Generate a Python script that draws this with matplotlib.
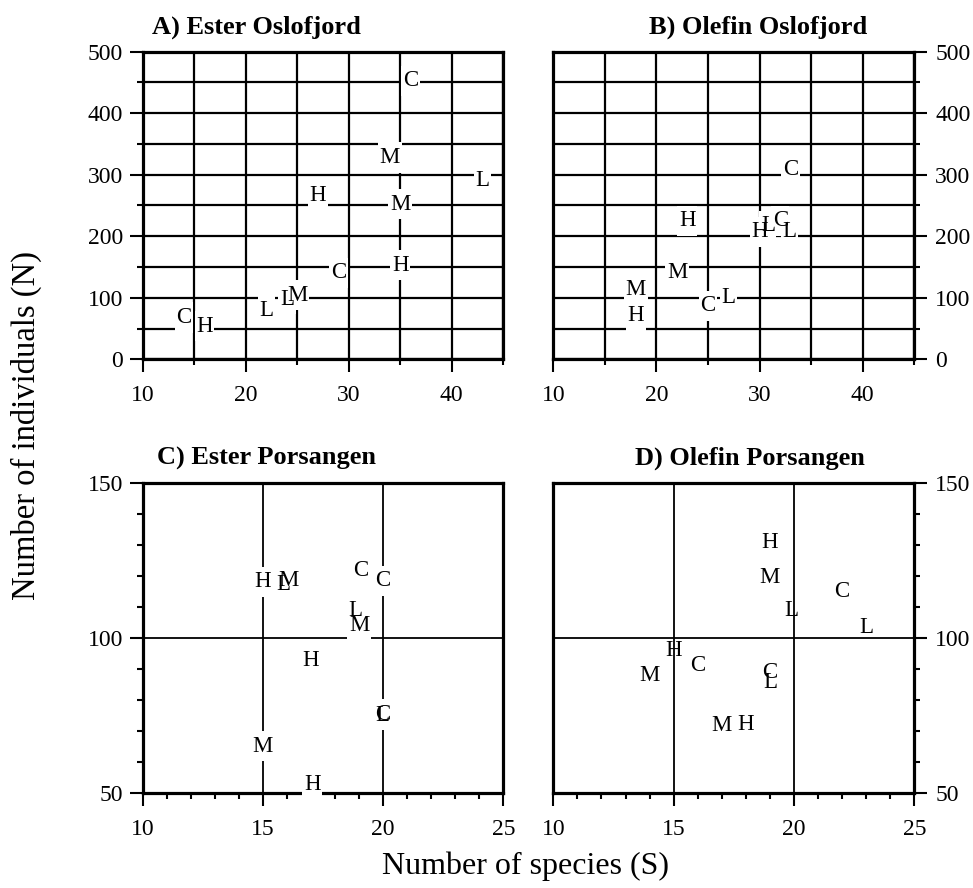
import matplotlib
matplotlib.use("Agg")
import matplotlib.pyplot as plt
from matplotlib.path import Path
from matplotlib.ticker import MultipleLocator

plt.rcParams['font.family'] = ['Liberation Serif', 'DejaVu Serif']

# A) Ester, Oslofjord
a_lab = ['C', 'M', 'L', 'H', 'M', 'H', 'C', 'L', 'M', 'L', 'C', 'H']
a_s = [36, 34, 43, 27, 35, 35, 29, 24, 25, 22, 14, 16]
a_n = [457, 332, 294, 270, 256, 157, 145, 102, 108, 83, 72, 58]

# B) Olefin, Oslofjord
b_lab = ['C', 'H', 'H', 'L', 'C', 'L', 'M', 'M', 'H', 'C', 'L']
b_s = [33, 23, 30, 30.8, 32, 32.9, 22, 18, 18, 25, 27]
b_n = [313, 229, 211, 221, 229, 211, 145, 118, 75, 91, 104]

# C) Ester, Porsangen
c_lab = ['H', 'L', 'M', 'C', 'C', 'L', 'M', 'H', 'C', 'L', 'M', 'H']
c_s = [15, 15.85, 16.05, 19.05, 20, 18.85, 19, 17, 20, 19.95, 15, 17.05]
c_n = [119, 118.3, 119.4, 122.6, 119.4, 109.7, 104.8, 93.5, 76.3, 76, 66, 53.7]

# D) Olefin, Porsangen
d_lab = ['H', 'M', 'L', 'C', 'L', 'H', 'C', 'M', 'C', 'L', 'M', 'H']
d_s = [19, 19, 19.9, 22, 23, 15, 16, 14, 19, 19, 17, 18]
d_n = [131.7, 120.4, 109.7, 116, 104.3, 97, 92, 88.7, 89.9, 86.5, 72.6, 73.1]

W, H = 973, 888
fig = plt.figure(figsize=(W / 100, H / 100), dpi=100)


def px_axes(left, top, right, bottom):
    return fig.add_axes([left / W, 1 - bottom / H, (right - left) / W, (bottom - top) / H])


def tall_box(x0, y0, width, height, mutation_size):
    # white patch behind a letter, a bit taller than the text line
    dx = 0.07 * mutation_size
    dy = 0.2 * mutation_size
    return Path([(x0 - dx, y0 - dy), (x0 + width + dx, y0 - dy),
                 (x0 + width + dx, y0 + height + dy), (x0 - dx, y0 + height + dy),
                 (x0 - dx, y0 - dy)], closed=True)


def setup(ax, xlim, ylim, xmaj, xmin, ymaj, ymin, grid_which, grid_lw, side):
    ax.set_xlim(*xlim)
    ax.set_ylim(*ylim)
    ax.xaxis.set_major_locator(MultipleLocator(xmaj))
    ax.xaxis.set_minor_locator(MultipleLocator(xmin))
    ax.yaxis.set_major_locator(MultipleLocator(ymaj))
    ax.yaxis.set_minor_locator(MultipleLocator(ymin))
    for sp in ax.spines.values():
        sp.set_linewidth(2.3)
    ax.grid(True, which=grid_which, color='black', linewidth=grid_lw)
    ax.tick_params(which='both', direction='out', width=1.5, labelsize=17, colors='black')
    ax.tick_params(which='major', length=9.5)
    ax.tick_params(which='minor', length=4.5)
    ax.tick_params(axis='x', pad=9)
    if side == 'right':
        ax.yaxis.tick_right()
        ax.tick_params(axis='y', pad=5.5)
    else:
        ax.tick_params(axis='y', pad=4.5)


def draw_letters(ax, labels, s, n, boxed=True):
    for lab, x, y in zip(labels, s, n):
        if boxed:
            ax.text(x, y, lab, ha='center', va='center_baseline', fontsize=16.5,
                    color='white', zorder=3,
                    bbox=dict(boxstyle=tall_box, fc='white', ec='none'))
        ax.text(x, y, lab, ha='center', va='center_baseline', fontsize=16.5,
                color='black', zorder=4)


def panel_title(ax, x, text):
    ax.text(x, 1.06, text, transform=ax.transAxes, ha='center', va='baseline',
            fontsize=19, fontweight='bold')


ax_a = px_axes(142.7, 51.7, 503.3, 359.3)
ax_b = px_axes(553.3, 51.7, 914.3, 359.3)
ax_c = px_axes(142.7, 483.3, 503.3, 793.3)
ax_d = px_axes(553.3, 483.3, 914.3, 793.3)

setup(ax_a, (10, 45), (0, 500), 10, 5, 100, 50, 'both', 1.6, 'left')
setup(ax_b, (10, 45), (0, 500), 10, 5, 100, 50, 'both', 1.6, 'right')
setup(ax_c, (10, 25), (50, 150), 5, 1, 50, 10, 'major', 1.3, 'left')
setup(ax_d, (10, 25), (50, 150), 5, 1, 50, 10, 'major', 1.3, 'right')

draw_letters(ax_a, a_lab, a_s, a_n)
draw_letters(ax_b, b_lab, b_s, b_n)
draw_letters(ax_c, c_lab, c_s, c_n)
draw_letters(ax_d, d_lab, d_s, d_n, boxed=False)

panel_title(ax_a, 0.316, 'A) Ester Oslofjord')
panel_title(ax_b, 0.566, 'B) Olefin Oslofjord')
panel_title(ax_c, 0.344, 'C) Ester Porsangen')
panel_title(ax_d, 0.545, 'D) Olefin Porsangen')

fig.text(526 / W, 1 - 866 / H, 'Number of species (S)', ha='center', va='center', fontsize=23)
fig.text(26 / W, 1 - 425 / H, 'Number of individuals (N)', ha='center', va='center',
         rotation=90, fontsize=23.5)

fig.savefig('out.png', dpi=100)
